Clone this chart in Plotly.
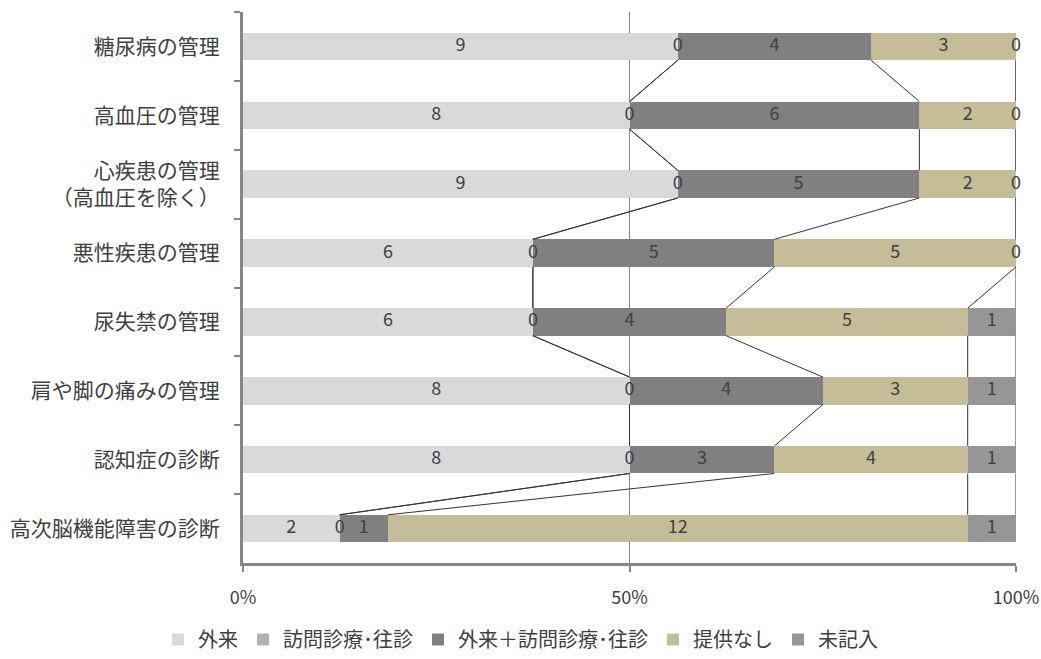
import plotly.graph_objects as go

categories = [
    "糖尿病の管理",
    "高血圧の管理",
    "心疾患の管理<br>（高血圧を除く）",
    "悪性疾患の管理",
    "尿失禁の管理",
    "肩や脚の痛みの管理",
    "認知症の診断",
    "高次脳機能障害の診断",
]
series_names = ["外来", "訪問診療･往診", "外来＋訪問診療･往診", "提供なし", "未記入"]
gairai = [9, 8, 9, 6, 6, 8, 8, 2]
houmon = [0, 0, 0, 0, 0, 0, 0, 0]
both = [4, 6, 5, 5, 4, 4, 3, 1]
nashi = [3, 2, 2, 5, 5, 3, 4, 12]
mikinyu = [0, 0, 0, 0, 1, 1, 1, 1]
colors = ["#D9D9D9", "#B2B2B2", "#808080", "#C4BD97", "#969696"]

series = [gairai, houmon, both, nashi, mikinyu]
totals = [sum(s[i] for s in series) for i in range(len(categories))]

FONT = "Noto Sans CJK JP"
TXT = "#404040"
BARGAP = 0.6

fig = go.Figure()
for name, vals, col in zip(series_names, series, colors):
    fig.add_trace(go.Bar(
        name=name, y=categories, x=vals, orientation="h",
        marker=dict(color=col, line=dict(width=0)),
        hoverinfo="skip",
    ))

# percentage boundaries of each segment
starts, ends = [], []
for i in range(len(categories)):
    acc = 0.0
    s_row, e_row = [], []
    for vals in series:
        p = vals[i] / totals[i] * 100
        s_row.append(acc)
        acc += p
        e_row.append(acc)
    starts.append(s_row)
    ends.append(e_row)

# value labels centred on each segment (zero-width segments included)
lx, ly, lt = [], [], []
for i, cat in enumerate(categories):
    for k, vals in enumerate(series):
        lx.append((starts[i][k] + ends[i][k]) / 2)
        ly.append(cat)
        lt.append(str(vals[i]))
fig.add_trace(go.Scatter(
    x=lx, y=ly, text=lt, mode="text", showlegend=False, hoverinfo="skip",
    cliponaxis=False,
    textfont=dict(family=FONT, size=18, color=TXT),
))

# series lines joining segment ends of neighbouring bars
half = (1 - BARGAP) / 2
for i in range(len(categories) - 1):
    for k in range(len(series)):
        fig.add_shape(
            type="line", xref="x", yref="y",
            x0=ends[i][k], y0=i + half, x1=ends[i + 1][k], y1=i + 1 - half,
            line=dict(color="#333333", width=1), layer="above",
        )

fig.update_layout(
    barmode="stack",
    bargap=BARGAP,
    barnorm="percent",
    width=1041, height=659,
    margin=dict(l=243, r=25, t=12, b=96, autoexpand=False),
    plot_bgcolor="white", paper_bgcolor="white",
    font=dict(family=FONT, size=18, color=TXT),
    legend=dict(
        orientation="h", xref="container", yref="container",
        x=0.5, xanchor="center", y=0, yanchor="bottom",
        font=dict(family=FONT, size=20, color=TXT),
        itemwidth=30, traceorder="normal",
    ),
    xaxis=dict(
        range=[0, 100], tickvals=[0, 50, 100], ticktext=["0%", "50%", "100%"],
        showgrid=True, gridcolor="#868686", gridwidth=1,
        showline=True, linecolor="#868686", linewidth=3,
        ticks="outside", ticklen=6, tickwidth=2, tickcolor="#868686",
        ticklabelstandoff=10, zeroline=False, automargin=False,
        tickfont=dict(family=FONT, size=18, color=TXT),
    ),
    yaxis=dict(
        autorange="reversed", type="category", automargin=False,
        showline=True, linecolor="#868686", linewidth=3,
        ticks="outside", ticklen=6, tickwidth=2, tickcolor="#868686",
        tickson="boundaries", ticklabelstandoff=16,
        tickfont=dict(family=FONT, size=21, color=TXT),
    ),
)

fig.write_html("out.html")
